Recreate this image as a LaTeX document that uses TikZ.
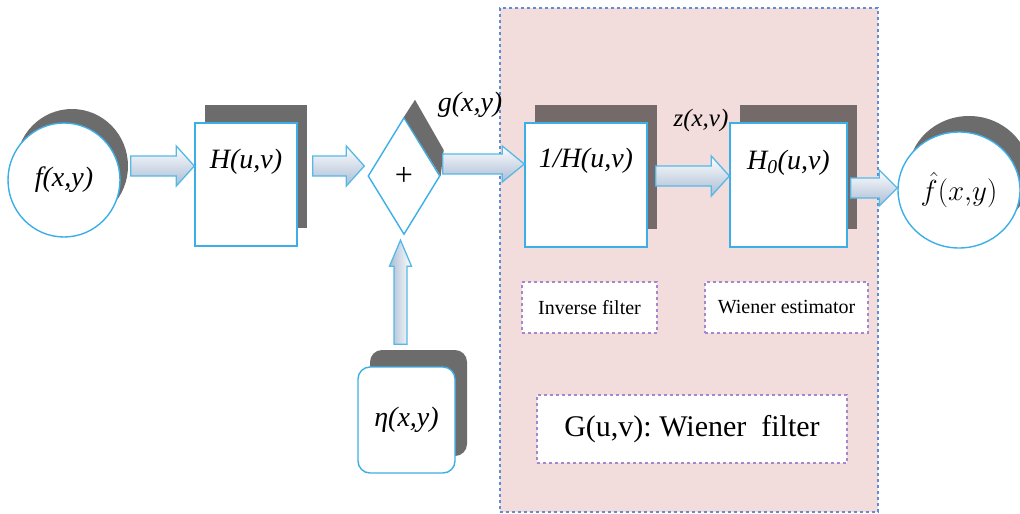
\documentclass[tikz,border=0pt]{standalone}
\usepackage{fix-cm}
\usepackage{fontspec}
\setmainfont{LiberationSerif}[Extension=.ttf, UprightFont=*-Regular, ItalicFont=*-Italic, BoldFont=*-Bold, BoldItalicFont=*-BoldItalic]
\usepackage{tikz}
\usetikzlibrary{shapes, shadows, positioning, calc}

\definecolor{boxblue}{RGB}{60,175,230}
\definecolor{arrowline}{RGB}{85,185,232}
\definecolor{arrowgray}{RGB}{170,188,212}
\definecolor{pinkbg}{RGB}{242,220,220}
\definecolor{regionblue}{RGB}{95,140,210}
\definecolor{dashpurple}{RGB}{165,135,205}
\definecolor{shadowgray}{RGB}{108,108,108}
\definecolor{shadowbrown}{RGB}{116,106,106}

\newcommand{\lblfont}{\fontsize{28}{30}\selectfont\itshape}
\newcommand{\tagfont}{\fontsize{20}{22}\selectfont}

\tikzset{
  blockbox/.style={draw=boxblue, line width=1.4pt, fill=white, minimum width=102pt, minimum height=123pt, inner sep=0pt},
  shadowed/.style={drop shadow={shadow xshift=10pt, shadow yshift=18pt, fill=#1, opacity=1}},
  signal/.style={ellipse, draw=boxblue, line width=1.4pt, fill=white, inner sep=0pt},
  tagbox/.style={draw=dashpurple, dashed, line width=2pt, fill=white, inner sep=0pt, font=\tagfont},
  arrowbody/.style={draw=arrowline, line width=1.3pt, top color=white, bottom color=arrowgray},
}

% fat arrow: [style]{from}{to}{body half}{head half}{head length}
\newcommand{\blockarrow}[6][]{%
  \path (#2) coordinate (ba-s) (#3) coordinate (ba-e);
  \path ($(ba-e)!#6!(ba-s)$) coordinate (ba-n);
  \path[arrowbody, #1] ($(ba-s)!#4!90:(ba-e)$) -- ($(ba-n)!#4!90:(ba-e)$)
    -- ($(ba-n)!#5!90:(ba-e)$) -- (ba-e) -- ($(ba-n)!#5!-90:(ba-e)$)
    -- ($(ba-n)!#4!-90:(ba-e)$) -- ($(ba-s)!#4!-90:(ba-e)$) -- cycle;
}

\begin{document}
\begin{tikzpicture}[x=1pt, y=-1pt]
  \useasboundingbox (0,0) rectangle (1020,514);

  % Wiener filter region
  \node[draw=regionblue, dashed, line width=1.3pt, fill=pinkbg, minimum width=378pt, minimum height=504pt] (gbox) at (689,260) {};

  % degradation model
  \node[signal, minimum width=112pt, minimum height=114pt, drop shadow={shadow xshift=8pt, shadow yshift=14pt, fill=shadowgray, opacity=1}, font=\lblfont] (f) at (64,180) {f(x,y)};
  \node[blockbox, shadowed=shadowgray] (H) at (246,184.5) {};
  \node[font=\lblfont] (Hlab) at ([yshift=-39pt]H.north) {H(u,v)};

  \node[diamond, draw=boxblue, line width=1.4pt, fill=white, minimum width=72pt, minimum height=117pt, inner sep=0pt, font=\fontsize{32}{34}\selectfont] (sum) at (404,176) {+};
  \fill[shadowgray] (sum.north) -- ([xshift=11pt, yshift=17pt]sum.north) -- ([xshift=3pt, yshift=26pt]sum.east) -- (sum.east) -- cycle;

  \node[draw=boxblue, line width=1.4pt, fill=white, rounded corners=12pt, minimum width=97pt, minimum height=106pt,
        drop shadow={shadow xshift=12pt, shadow yshift=17pt, fill=shadowgray, opacity=1}, font=\lblfont] (eta) at (406.5,420) {η(x,y)};

  \node[font=\lblfont] (g) at (470,105) {g(x,y)};

  % restoration
  \node[blockbox, minimum width=122pt, minimum height=124pt, shadowed=shadowbrown] (IH) at (586,185) {};
  \node[font=\lblfont] (IHlab) at ([yshift=-38pt]IH.north) {1/H(u,v)};
  \node[font=\fontsize{25}{27}\selectfont\itshape] (z) at (701,120) {z(x,v)};
  \node[blockbox, minimum width=117pt, minimum height=124pt, shadowed=shadowbrown] (H0) at (788.5,185) {};
  \node[font=\lblfont] (H0lab) at ([yshift=-40pt]H0.north) {H\textsubscript{0}(u,v)};

  \node[signal, minimum width=122pt, minimum height=116pt, drop shadow={shadow xshift=10pt, shadow yshift=16pt, fill=shadowgray, opacity=1}, font=\fontsize{29}{31}\selectfont] (fhat) at (959,190) {$\hat{f}(x{,}y)$};

  \node[tagbox, minimum width=135pt, minimum height=51pt] (inv) at (589.5,307.5) {Inverse filter};
  \node[tagbox, minimum width=163pt, minimum height=51pt] (wie) at (786.5,307.5) {Wiener estimator};
  \node[tagbox, minimum width=310pt, minimum height=68pt, font=\fontsize{30}{32}\selectfont] (G) at (692,429) {G(u,v):\ Wiener\ \ filter};

  % connectors
  \blockarrow{[xshift=10pt, yshift=14pt]f.east}{[yshift=18.5pt]H.west}{10pt}{20pt}{18pt}
  \blockarrow{[xshift=15pt, yshift=18.5pt]H.east}{[xshift=-3pt, yshift=10pt]sum.west}{10pt}{20pt}{18pt}
  \blockarrow{[xshift=2pt, yshift=12pt]sum.east}{[yshift=21pt]IH.west}{10pt}{18pt}{22pt}
  \blockarrow{[xshift=8pt, yshift=9pt]IH.east}{[yshift=9pt]H0.west}{10pt}{20pt}{18pt}
  \blockarrow{[xshift=3pt, yshift=-3pt]H0.east}{[yshift=2pt]fhat.west}{10pt}{18pt}{18pt}
  \blockarrow[left color=arrowgray, right color=white]{[xshift=-6pt, yshift=22pt]eta.north}{[xshift=-3.5pt, yshift=-5pt]sum.south}{6.5pt}{11pt}{26pt}
\end{tikzpicture}
\end{document}
